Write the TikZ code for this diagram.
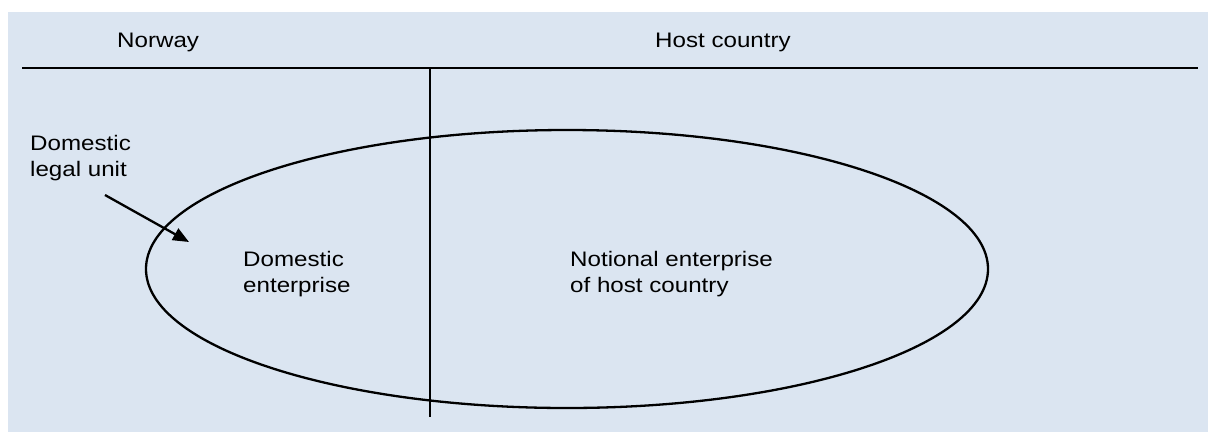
\documentclass[tikz,border=0pt]{standalone}
\usepackage{fontspec}
\setmainfont{Liberation Sans}[FakeStretch=1.15]
\usetikzlibrary{arrows.meta}
\definecolor{paleblue}{HTML}{DBE5F1}

\begin{document}
\begin{tikzpicture}[
	x=1pt, y=-1pt,
	plaintext/.style={inner sep=0pt, align=left, font=\fontsize{21}{26}\selectfont},
	divider/.style={line width=2.8pt},
	unitline/.style={line width=2.3pt},
	pointer/.style={line width=2.3pt, -{Triangle[length=16pt,width=13pt]}},
]
\useasboundingbox (0,0) rectangle (1208,432);
\fill[paleblue] (8,12) rectangle (1208,432);

\node[plaintext, anchor=base west] (norway) at (117,47) {Norway};
\node[plaintext, anchor=base west] (host) at (655,47) {Host country};

\draw[divider] (22,68) -- (1198,68);
\draw[divider] (430,68) -- (430,417);

\draw[unitline] (567,269) ellipse [x radius=421pt, y radius=139pt];

\node[plaintext, anchor=north west] (legal) at (30,135) {Domestic\\ legal unit};
\node[plaintext, anchor=north west] (domestic) at (243,251) {Domestic\\ enterprise};
\node[plaintext, anchor=north west] (notional) at (570,251) {Notional enterprise\\ of host country};

\coordinate (tail) at (105,195);
\coordinate (tip) at (189,242);
\draw[pointer] (tail) -- (tip);

\end{tikzpicture}
\end{document}
